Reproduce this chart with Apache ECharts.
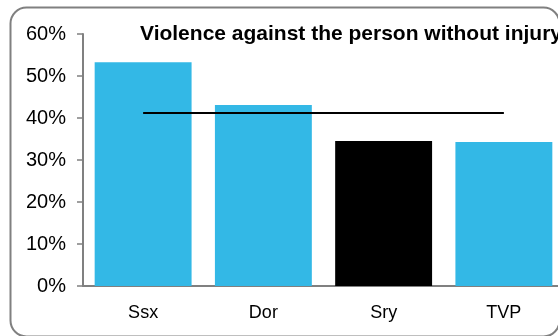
<!DOCTYPE html>
<html><head><meta charset="utf-8">
<script src="https://cdn.jsdelivr.net/npm/echarts@6/dist/echarts.min.js"></script>
<style>html,body{margin:0;padding:0;background:#fff}#c{width:558px;height:336px}</style>
</head><body><div id="c"></div>
<script>
const categories = ['Ssx', 'Dor', 'Sry', 'TVP'];
const values = [0.533, 0.431, 0.345, 0.343];
const average = [0.412, 0.412, 0.412, 0.412];
const highlight = 'Sry';
const title = 'Violence against the person without injury';

const chart = echarts.init(document.getElementById('c'), null, {renderer: 'canvas'});
chart.setOption({
  animation: false,
  graphic: [{
    type: 'rect', left: 8, top: 5,
    shape: {width: 549, height: 329, r: 16},
    style: {fill: 'none', stroke: '#808080', lineWidth: 2}, z: -1
  }],
  title: {
    text: title, left: 135, top: 19,
    textStyle: {fontFamily: 'Liberation Sans', fontWeight: 'bold', fontSize: 21, color: '#000'}
  },
  grid: {left: 83, width: 481, top: 34, bottom: 50, containLabel: false, outerBoundsMode: 'none'},
  xAxis: {
    type: 'category', data: categories, boundaryGap: true,
    axisLine: {lineStyle: {color: '#808080', width: 2}},
    axisTick: {show: false},
    axisLabel: {fontFamily: 'Liberation Sans', fontSize: 18, color: '#000', margin: 18}
  },
  yAxis: {
    type: 'value', min: 0, max: 0.6, interval: 0.1,
    axisLine: {show: true, lineStyle: {color: '#808080', width: 2}},
    axisTick: {show: true, length: 6, lineStyle: {color: '#808080', width: 1.5}},
    splitLine: {show: false},
    axisLabel: {fontFamily: 'Liberation Sans', fontSize: 20, color: '#000', margin: 17,
      formatter: v => Math.round(v * 100) + '%'}
  },
  series: [{
    type: 'bar', barCategoryGap: '19.4%',
    data: values.map((v, i) => ({value: v, itemStyle: {color: categories[i] === highlight ? '#000000' : '#33B8E6'}}))
  }, {
    type: 'line', data: average, symbol: 'none',
    lineStyle: {color: '#000', width: 2}, z: 5
  }]
});
</script></body></html>
